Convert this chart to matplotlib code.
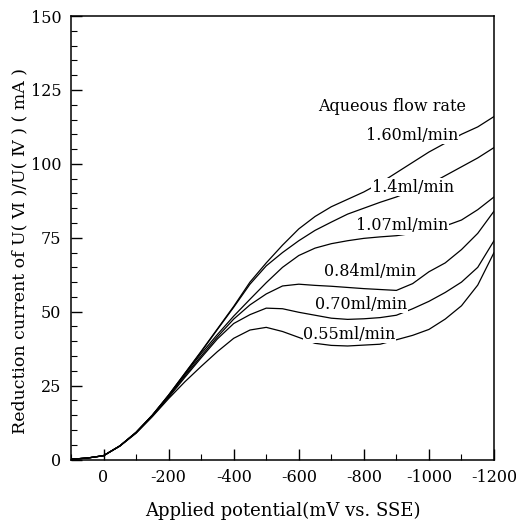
import matplotlib
matplotlib.use("Agg")
import matplotlib.pyplot as plt
from matplotlib.ticker import MultipleLocator

plt.rcParams["font.family"] = ["DejaVu Serif"]
plt.rcParams["axes.unicode_minus"] = False

# applied potential (mV vs. SSE), same grid for every curve
potential = [100, 50, 0, -50, -100, -150, -200, -250, -300, -350, -400, -450, -500,
             -550, -600, -650, -700, -750, -800, -850, -900, -950, -1000, -1050,
             -1100, -1150, -1200]

# reduction current (mA)
i_160 = [0.1, 0.5, 1.3, 4.6, 9.2, 15.0, 21.8, 29.2, 36.6, 44.2, 51.8, 60.0, 66.5,
         72.5, 78.0, 82.2, 85.5, 88.0, 90.5, 93.5, 97.0, 100.5, 104.0, 107.0,
         110.0, 112.5, 116.0]
i_140 = [0.1, 0.5, 1.3, 4.6, 9.2, 15.0, 21.8, 29.1, 36.4, 44.0, 51.5, 59.3, 65.5,
         70.0, 74.0, 77.5, 80.3, 83.0, 85.0, 87.0, 88.8, 91.0, 93.0, 96.0,
         99.0, 102.0, 105.5]
i_107 = [0.1, 0.5, 1.3, 4.6, 9.2, 15.0, 21.6, 28.8, 35.8, 42.3, 48.5, 54.2, 59.8,
         65.0, 69.0, 71.5, 73.0, 74.0, 74.8, 75.3, 75.7, 76.5, 77.5, 79.0,
         81.0, 84.5, 88.8]
i_084 = [0.1, 0.5, 1.3, 4.6, 9.1, 14.9, 21.4, 28.3, 35.0, 41.5, 47.5, 52.3, 56.0,
         58.7, 59.3, 58.9, 58.6, 58.2, 57.8, 57.5, 57.2, 59.5, 63.5, 66.5,
         71.0, 76.5, 84.0]
i_070 = [0.1, 0.5, 1.3, 4.6, 9.0, 14.7, 21.0, 27.8, 34.4, 40.8, 46.0, 49.0, 51.2,
         51.0, 49.8, 48.8, 47.8, 47.4, 47.6, 48.0, 48.8, 51.0, 53.5, 56.5,
         60.0, 65.0, 74.0]
i_055 = [0.1, 0.5, 1.3, 4.5, 8.9, 14.5, 20.6, 26.3, 31.5, 36.5, 41.0, 43.8, 44.7,
         43.3, 41.3, 39.3, 38.6, 38.4, 38.7, 39.0, 40.5, 42.0, 44.0, 47.5,
         52.0, 59.0, 70.0]

curves = [i_160, i_140, i_107, i_084, i_070, i_055]
labels = ["1.60ml/min", "1.4ml/min", "1.07ml/min", "0.84ml/min", "0.70ml/min", "0.55ml/min"]
label_x = [-950, -951, -917, -820, -792, -756]
label_y = [109.6, 92.1, 79.1, 63.6, 52.6, 42.4]

fig = plt.figure(figsize=(5.16, 5.2), dpi=100)
ax = fig.add_axes([0.1376, 0.1163, 0.8198, 0.8529])

for c in curves:
    ax.plot(potential, c, color="black", linewidth=0.9)

# flow rate labels sit on white so the curves break behind them
for lab, lx, ly in zip(labels, label_x, label_y):
    ax.text(lx, ly, lab, fontsize=11.5, ha="center", va="center", zorder=5,
            bbox=dict(facecolor="white", edgecolor="none", pad=0.3))
ax.text(-887, 119.5, "Aqueous flow rate", fontsize=11.5, ha="center", va="center")

ax.set_xlim(100, -1200)
ax.set_ylim(0, 150)
ax.xaxis.set_major_locator(MultipleLocator(200))
ax.xaxis.set_minor_locator(MultipleLocator(100))
ax.yaxis.set_major_locator(MultipleLocator(25))
ax.yaxis.set_minor_locator(MultipleLocator(5))
ax.tick_params(which="major", direction="in", length=8, width=1, labelsize=11.5, pad=7)
ax.tick_params(which="minor", direction="in", length=4.5, width=0.8)
for s in ax.spines.values():
    s.set_linewidth(1.1)

ax.set_xlabel("Applied potential(mV vs. SSE)", fontsize=13, labelpad=11)
ax.set_ylabel("Reduction current of U( \u2165 )/U( \u2163 ) ( mA )", fontsize=12.5)
ax.yaxis.set_label_coords(-0.1, 0.47)

plt.savefig("out.png", dpi=100)
